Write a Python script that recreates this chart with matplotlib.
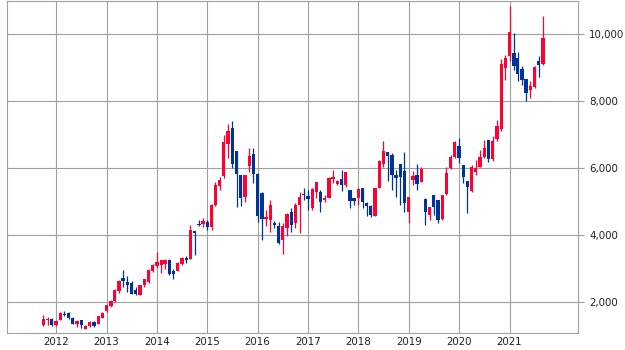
import matplotlib
matplotlib.use("Agg")
import matplotlib.pyplot as plt
import matplotlib.dates as mdates
import matplotlib.ticker as mticker
import numpy as np
import pandas as pd

# monthly candles, Oct 2011 .. Sep 2021
opens = [
    1320, 1450, 1500,
    1320, 1470, 1650, 1660, 1520, 1330, 1450, 1190, 1270, 1390, 1350, 1530,
    1740, 1870, 2020, 2320, 2720, 2600, 2570, 2360, 2210, 2510, 2610, 2940,
    3070, 3100, 3150, 3270, 2940, 2940, 3150, 3330, 3300, 4120, 4320, 4320,
    4390, 4250, 4900, 5470, 5780, 6720, 7210, 6530, 5800, 5150, 6070, 6440,
    5840, 5250, 4480, 4460, 4360, 4280, 3860, 4210, 4680, 4360, 4900, 5230,
    5180, 4810, 5300, 5300, 5050, 5120, 5680, 5530, 5680, 5500, 5350, 5100,
    5100, 5420, 4950, 4870, 4580, 5400, 6130, 6480, 6400, 5800, 6130, 5920,
    4680, 5650, 5800, 5600, 5080, 4600, 5200, 5050, 4480, 5230, 6020, 6350,
    6680, 6100, 5620, 5320, 5900, 6050, 6330, 6850, 6270, 6870, 7180, 9000,
    9350, 9440, 9300, 8970, 8680, 8330, 8430, 9200, 9120,
]
highs = [
    1620, 1540, 1520,
    1450, 1700, 1720, 1700, 1540, 1460, 1470, 1310, 1420, 1420, 1590, 1700,
    1910, 2050, 2400, 2660, 2960, 2770, 2630, 2440, 2520, 2700, 3000, 3140,
    3500, 3270, 3280, 3290, 2990, 3190, 3340, 3380, 4300, 4130, 4460, 4510,
    4450, 4920, 5600, 5750, 7000, 7330, 7400, 6530, 5800, 5800, 6600, 6600,
    5850, 5300, 4750, 5050, 4420, 4400, 4350, 4660, 4800, 4960, 5300, 5400,
    5350, 5400, 5600, 5350, 5200, 5750, 5950, 5650, 5940, 5900, 5350, 5100,
    5400, 5420, 5000, 4900, 5400, 6250, 6800, 6500, 6450, 5950, 6130, 6500,
    5150, 5930, 6130, 6050, 5100, 4850, 5200, 5050, 5200, 6050, 6400, 6800,
    6900, 6100, 5620, 6100, 6250, 6550, 6850, 6850, 6950, 7450, 9270, 9400,
    10840, 10050, 9470, 9070, 8680, 8600, 9050, 9350, 10550,
]
lows = [
    1270, 1320, 1290,
    1280, 1460, 1570, 1480, 1330, 1260, 1230, 1180, 1240, 1260, 1330, 1520,
    1700, 1860, 2000, 2280, 2440, 2300, 2230, 2220, 2200, 2460, 2560, 2900,
    3020, 2880, 2980, 2820, 2700, 2920, 3120, 3180, 3290, 3400, 4260, 4230,
    4160, 4160, 4880, 5350, 5700, 6300, 6000, 4850, 4880, 5000, 5900, 5550,
    4400, 3850, 4280, 4100, 4200, 3750, 3450, 3980, 4100, 4220, 4050, 5050,
    4750, 4750, 5100, 4680, 5000, 5100, 5550, 5500, 5330, 5450, 4800, 4900,
    4900, 4800, 4580, 4550, 4580, 5400, 6050, 5630, 5350, 5150, 4900, 4700,
    4350, 5500, 5350, 5600, 4300, 4450, 4600, 4350, 4450, 5200, 5980, 6300,
    6150, 5550, 4650, 5300, 5800, 6050, 6300, 6200, 6230, 6800, 7100, 8630,
    9200, 8950, 8600, 8500, 8000, 8100, 8400, 8730, 9100,
]
closes = [
    1500, 1500, 1300,
    1440, 1670, 1610, 1510, 1350, 1440, 1300, 1290, 1390, 1270, 1570, 1680,
    1900, 2020, 2370, 2640, 2620, 2500, 2240, 2230, 2510, 2680, 2960, 3100,
    3200, 3250, 3250, 2830, 2830, 3170, 3320, 3250, 4150, 4050, 4290, 4430,
    4250, 4910, 5500, 5650, 6770, 7120, 6120, 5830, 5120, 5800, 6370, 5840,
    4560, 4490, 4530, 4900, 4310, 3780, 4280, 4640, 4310, 4900, 5150, 5190,
    5070, 5380, 5580, 4980, 5100, 5720, 5730, 5630, 5500, 5900, 5030, 5030,
    5380, 4980, 4860, 4600, 5400, 6220, 6530, 6380, 5800, 5720, 5750, 4970,
    5150, 5770, 5520, 5980, 4700, 4830, 4830, 4450, 5200, 5870, 6350, 6770,
    6320, 5730, 5450, 6050, 6000, 6330, 6620, 6270, 6800, 7260, 9120, 9300,
    10060, 9050, 8830, 8650, 8250, 8470, 9040, 9100, 9900,
]
years = list(range(2012, 2022))
y_ticks = [2000, 4000, 6000, 8000, 10000]

UP = "#ff0033"
DOWN = "#003399"
GRID = "#a0a0a0"

o = np.array(opens)
h = np.array(highs)
l = np.array(lows)
c = np.array(closes)
months = pd.date_range("2011-10-01", periods=len(o), freq="MS")
x = mdates.date2num(months)
cols = np.where(c >= o, UP, DOWN)

fig = plt.figure(figsize=(6.25, 3.5), dpi=100)
ax = fig.add_axes([7 / 625, 17 / 350, 571 / 625, 332.5 / 350])

ax.vlines(x, l, h, colors=cols, linewidth=0.9, zorder=3)
body_bottom = np.minimum(o, c)
body_h = np.maximum(np.abs(c - o), 20)
ax.bar(x, body_h, bottom=body_bottom, width=24, color=cols, linewidth=0, zorder=4)

ax.set_xlim(mdates.date2num(pd.Timestamp("2011-01-10")), mdates.date2num(pd.Timestamp("2022-05-12")))
ax.set_ylim(1075, 11015)

year_x = mdates.date2num([pd.Timestamp(f"{yr}-01-01") for yr in years])
ax.set_xticks(year_x)
ax.set_xticklabels([str(yr) for yr in years])
ax.set_yticks(y_ticks)
ax.yaxis.set_major_formatter(mticker.FuncFormatter(lambda v, p: f"{int(v):,}"))
ax.yaxis.tick_right()

ax.grid(True, color=GRID, linewidth=0.8, zorder=0)
for s in ax.spines.values():
    s.set_color(GRID)
    s.set_linewidth(0.8)
ax.tick_params(axis="x", length=0, pad=3, labelsize=7.4, labelcolor="#222222")
ax.tick_params(axis="y", length=4, width=0.8, color=GRID, pad=4, labelsize=7.4, labelcolor="#222222")

fig.savefig("out.png", dpi=100)
